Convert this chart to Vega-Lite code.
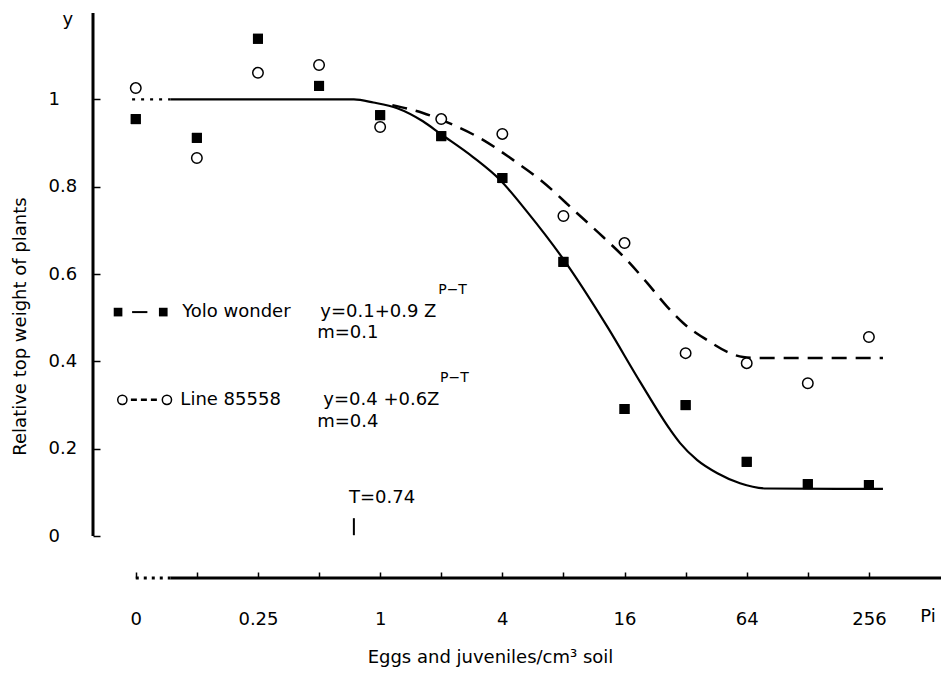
{
  "$schema": "https://vega.github.io/schema/vega-lite/v6.json",
  "width": 848,
  "height": 565,
  "autosize": "none",
  "padding": {"left": 93, "top": 13, "right": 0, "bottom": 95},
  "background": "white",
  "config": {
    "font": "DejaVu Sans",
    "view": {"stroke": null},
    "text": {"font": "DejaVu Sans", "fontSize": 18, "color": "black"}
  },
  "data": {"values": [{}]},
  "datasets": {
    "points": [
      {"series": "Yolo wonder", "P": "0", "k": -4, "y": 0.955},
      {"series": "Yolo wonder", "P": "0.125", "k": -3, "y": 0.912},
      {"series": "Yolo wonder", "P": "0.25", "k": -2, "y": 1.139},
      {"series": "Yolo wonder", "P": "0.5", "k": -1, "y": 1.031},
      {"series": "Yolo wonder", "P": "1", "k": 0, "y": 0.964},
      {"series": "Yolo wonder", "P": "2", "k": 1, "y": 0.916},
      {"series": "Yolo wonder", "P": "4", "k": 2, "y": 0.82},
      {"series": "Yolo wonder", "P": "8", "k": 3, "y": 0.628},
      {"series": "Yolo wonder", "P": "16", "k": 4, "y": 0.291},
      {"series": "Yolo wonder", "P": "32", "k": 5, "y": 0.3},
      {"series": "Yolo wonder", "P": "64", "k": 6, "y": 0.17},
      {"series": "Yolo wonder", "P": "128", "k": 7, "y": 0.119},
      {"series": "Yolo wonder", "P": "256", "k": 8, "y": 0.117},
      {"series": "Line 85558", "P": "0", "k": -4, "y": 1.026},
      {"series": "Line 85558", "P": "0.125", "k": -3, "y": 0.866},
      {"series": "Line 85558", "P": "0.25", "k": -2, "y": 1.061},
      {"series": "Line 85558", "P": "0.5", "k": -1, "y": 1.079},
      {"series": "Line 85558", "P": "1", "k": 0, "y": 0.937},
      {"series": "Line 85558", "P": "2", "k": 1, "y": 0.955},
      {"series": "Line 85558", "P": "4", "k": 2, "y": 0.921},
      {"series": "Line 85558", "P": "8", "k": 3, "y": 0.733},
      {"series": "Line 85558", "P": "16", "k": 4, "y": 0.671},
      {"series": "Line 85558", "P": "32", "k": 5, "y": 0.419},
      {"series": "Line 85558", "P": "64", "k": 6, "y": 0.396},
      {"series": "Line 85558", "P": "128", "k": 7, "y": 0.35},
      {"series": "Line 85558", "P": "256", "k": 8, "y": 0.456}
    ],
    "curves": [
      {"series": "start", "k": -4.06, "y": 1.0},
      {"series": "start", "k": -3.43, "y": 1.0},
      {"series": "Yolo wonder", "k": -3.43, "y": 1.0},
      {"series": "Yolo wonder", "k": -0.43, "y": 1.0},
      {"series": "Yolo wonder", "k": -0.11, "y": 0.993},
      {"series": "Yolo wonder", "k": 0.28, "y": 0.98},
      {"series": "Yolo wonder", "k": 0.7, "y": 0.95},
      {"series": "Yolo wonder", "k": 0.98, "y": 0.922},
      {"series": "Yolo wonder", "k": 1.52, "y": 0.868},
      {"series": "Yolo wonder", "k": 1.96, "y": 0.816},
      {"series": "Yolo wonder", "k": 2.41, "y": 0.742},
      {"series": "Yolo wonder", "k": 3.03, "y": 0.628},
      {"series": "Yolo wonder", "k": 3.72, "y": 0.479},
      {"series": "Yolo wonder", "k": 4.26, "y": 0.352},
      {"series": "Yolo wonder", "k": 4.75, "y": 0.243},
      {"series": "Yolo wonder", "k": 4.91, "y": 0.213},
      {"series": "Yolo wonder", "k": 5.19, "y": 0.174},
      {"series": "Yolo wonder", "k": 5.52, "y": 0.144},
      {"series": "Yolo wonder", "k": 5.89, "y": 0.121},
      {"series": "Yolo wonder", "k": 6.33, "y": 0.109},
      {"series": "Yolo wonder", "k": 8.23, "y": 0.108},
      {"series": "Line 85558", "k": 0.2, "y": 0.987},
      {"series": "Line 85558", "k": 0.7, "y": 0.969},
      {"series": "Line 85558", "k": 1.19, "y": 0.942},
      {"series": "Line 85558", "k": 1.69, "y": 0.907},
      {"series": "Line 85558", "k": 2.18, "y": 0.861},
      {"series": "Line 85558", "k": 2.62, "y": 0.816},
      {"series": "Line 85558", "k": 3.22, "y": 0.74},
      {"series": "Line 85558", "k": 3.65, "y": 0.685},
      {"series": "Line 85558", "k": 4.04, "y": 0.632},
      {"series": "Line 85558", "k": 4.37, "y": 0.58},
      {"series": "Line 85558", "k": 4.7, "y": 0.525},
      {"series": "Line 85558", "k": 4.96, "y": 0.488},
      {"series": "Line 85558", "k": 5.35, "y": 0.449},
      {"series": "Line 85558", "k": 5.68, "y": 0.422},
      {"series": "Line 85558", "k": 5.94, "y": 0.41},
      {"series": "Line 85558", "k": 6.17, "y": 0.408},
      {"series": "Line 85558", "k": 8.23, "y": 0.408}
    ]
  },
  "layer": [
    {
      "data": {"name": "points"},
      "transform": [{"filter": "datum.series == 'Yolo wonder'"}],
      "mark": {"type": "square", "size": 100, "color": "black", "opacity": 1},
      "encoding": {
        "x": {
          "field": "k", "type": "quantitative",
          "scale": {"domain": [-4.7, 9.18], "nice": false, "zero": false},
          "axis": {
            "values": [-4, -3, -2, -1, 0, 1, 2, 3, 4, 5, 6, 7, 8],
            "domain": false, "grid": false,
            "tickSize": -6, "tickWidth": 1.5, "tickColor": "black",
            "labelExpr": "datum.value == -4 ? '0' : datum.value == -2 ? '0.25' : datum.value == 0 ? '1' : datum.value == 2 ? '4' : datum.value == 4 ? '16' : datum.value == 6 ? '64' : datum.value == 8 ? '256' : ''",
            "labelPadding": 38, "labelFontSize": 18, "labelColor": "black", "labelFont": "DejaVu Sans",
            "labelFlush": false, "labelOverlap": false, "labelBound": false,
            "title": "Eggs and juveniles/cm³ soil",
            "titleFont": "DejaVu Sans", "titleFontSize": 18, "titleFontWeight": "normal", "titleColor": "black",
            "titleX": 397, "titleY": 70, "titleBaseline": "top", "titleAlign": "center"
          }
        },
        "y": {
          "field": "y", "type": "quantitative",
          "scale": {"domain": [-0.096, 1.198], "nice": false, "zero": false},
          "axis": {
            "values": [0, 0.2, 0.4, 0.6, 0.8, 1],
            "domain": false, "grid": false,
            "tickSize": -7, "tickWidth": 1.5, "tickColor": "black",
            "labelExpr": "format(datum.value, '~g')",
            "labelAlign": "left", "labelPadding": 52, "labelFontSize": 18, "labelColor": "black", "labelFont": "DejaVu Sans",
            "labelFlush": false, "labelOverlap": false, "labelBound": false,
            "title": "Relative top weight of plants",
            "titleFont": "DejaVu Sans", "titleFontSize": 18, "titleFontWeight": "normal", "titleColor": "black",
            "titleAngle": -90, "titleX": -73, "titleY": 313, "titleBaseline": "middle", "titleAlign": "center"
          }
        }
      }
    },
    {
      "data": {"name": "curves"},
      "transform": [{"filter": "datum.series == 'Yolo wonder'"}],
      "mark": {"type": "line", "color": "black", "strokeWidth": 2.2, "interpolate": "monotone"},
      "encoding": {
        "x": {"field": "k", "type": "quantitative"},
        "y": {"field": "y", "type": "quantitative"}
      }
    },
    {
      "data": {"name": "curves"},
      "transform": [{"filter": "datum.series == 'start'"}],
      "mark": {"type": "line", "color": "black", "strokeWidth": 2.2, "strokeDash": [3, 6]},
      "encoding": {
        "x": {"field": "k", "type": "quantitative"},
        "y": {"field": "y", "type": "quantitative"}
      }
    },
    {
      "data": {"name": "curves"},
      "transform": [{"filter": "datum.series == 'Line 85558'"}],
      "mark": {"type": "line", "color": "black", "strokeWidth": 2.5, "strokeDash": [15, 9], "interpolate": "monotone"},
      "encoding": {
        "x": {"field": "k", "type": "quantitative"},
        "y": {"field": "y", "type": "quantitative"}
      }
    },
    {
      "data": {"name": "points"},
      "transform": [{"filter": "datum.series == 'Line 85558'"}],
      "mark": {"type": "point", "shape": "circle", "size": 110, "filled": true, "fill": "white", "stroke": "black", "strokeWidth": 1.5, "opacity": 1},
      "encoding": {
        "x": {"field": "k", "type": "quantitative"},
        "y": {"field": "y", "type": "quantitative"}
      }
    },
    {
      "data": {"name": "points"},
      "transform": [{"filter": "datum.series == 'Yolo wonder'"}],
      "mark": {"type": "square", "size": 100, "color": "black", "opacity": 1},
      "encoding": {
        "x": {"field": "k", "type": "quantitative"},
        "y": {"field": "y", "type": "quantitative"}
      }
    },
    {
      "mark": {"type": "rule", "color": "black", "strokeWidth": 3},
      "encoding": {"x": {"datum": -4.7}, "y": {"datum": 0}, "y2": {"datum": 1.198}}
    },
    {
      "mark": {"type": "rule", "color": "black", "strokeWidth": 3},
      "encoding": {"x": {"datum": -3.43}, "x2": {"datum": 9.18}, "y": {"datum": -0.096}}
    },
    {
      "mark": {"type": "rule", "color": "black", "strokeWidth": 3, "strokeDash": [3, 5]},
      "encoding": {"x": {"datum": -4.0}, "x2": {"datum": -3.43}, "y": {"datum": -0.096}}
    },
    {
      "mark": {"type": "rule", "color": "black", "strokeWidth": 2},
      "encoding": {"x": {"datum": -0.43}, "y": {"datum": 0.002}, "y2": {"datum": 0.041}}
    },
    {
      "mark": {"type": "square", "size": 75, "color": "black", "opacity": 1},
      "encoding": {"x": {"datum": -4.29}, "y": {"datum": 0.513}}
    },
    {
      "mark": {"type": "rule", "color": "black", "strokeWidth": 2},
      "encoding": {"x": {"datum": -4.06}, "x2": {"datum": -3.81}, "y": {"datum": 0.513}}
    },
    {
      "mark": {"type": "square", "size": 75, "color": "black", "opacity": 1},
      "encoding": {"x": {"datum": -3.55}, "y": {"datum": 0.513}}
    },
    {
      "mark": {"type": "rule", "color": "black", "strokeWidth": 2.5, "strokeDash": [6, 4]},
      "encoding": {"x": {"datum": -4.08}, "x2": {"datum": -3.6}, "y": {"datum": 0.312}}
    },
    {
      "mark": {"type": "point", "shape": "circle", "size": 85, "filled": true, "fill": "white", "stroke": "black", "strokeWidth": 1.5, "opacity": 1},
      "encoding": {"x": {"datum": -4.22}, "y": {"datum": 0.312}}
    },
    {
      "mark": {"type": "point", "shape": "circle", "size": 85, "filled": true, "fill": "white", "stroke": "black", "strokeWidth": 1.5, "opacity": 1},
      "encoding": {"x": {"datum": -3.49}, "y": {"datum": 0.312}}
    },
    {
      "mark": {"type": "text", "text": "y", "align": "center"},
      "encoding": {"x": {"datum": -5.11}, "y": {"datum": 1.182}}
    },
    {
      "mark": {"type": "text", "text": "Yolo wonder", "align": "left"},
      "encoding": {"x": {"datum": -3.24}, "y": {"datum": 0.513}}
    },
    {
      "mark": {"type": "text", "text": "y=0.1+0.9 Z", "align": "left"},
      "encoding": {"x": {"datum": -0.98}, "y": {"datum": 0.513}}
    },
    {
      "mark": {"type": "text", "text": "P−T", "align": "left", "fontSize": 14},
      "encoding": {"x": {"datum": 0.95}, "y": {"datum": 0.564}}
    },
    {
      "mark": {"type": "text", "text": "m=0.1", "align": "left"},
      "encoding": {"x": {"datum": -1.03}, "y": {"datum": 0.465}}
    },
    {
      "mark": {"type": "text", "text": "Line 85558", "align": "left"},
      "encoding": {"x": {"datum": -3.27}, "y": {"datum": 0.312}}
    },
    {
      "mark": {"type": "text", "text": "y=0.4 +0.6Z", "align": "left"},
      "encoding": {"x": {"datum": -0.93}, "y": {"datum": 0.312}}
    },
    {
      "mark": {"type": "text", "text": "P−T", "align": "left", "fontSize": 14},
      "encoding": {"x": {"datum": 0.98}, "y": {"datum": 0.362}}
    },
    {
      "mark": {"type": "text", "text": "m=0.4", "align": "left"},
      "encoding": {"x": {"datum": -1.03}, "y": {"datum": 0.261}}
    },
    {
      "mark": {"type": "text", "text": "T=0.74", "align": "left"},
      "encoding": {"x": {"datum": -0.51}, "y": {"datum": 0.087}}
    },
    {
      "mark": {"type": "text", "text": "Pi", "align": "left"},
      "encoding": {"x": {"datum": 8.84}, "y": {"datum": -0.186}}
    }
  ]
}
